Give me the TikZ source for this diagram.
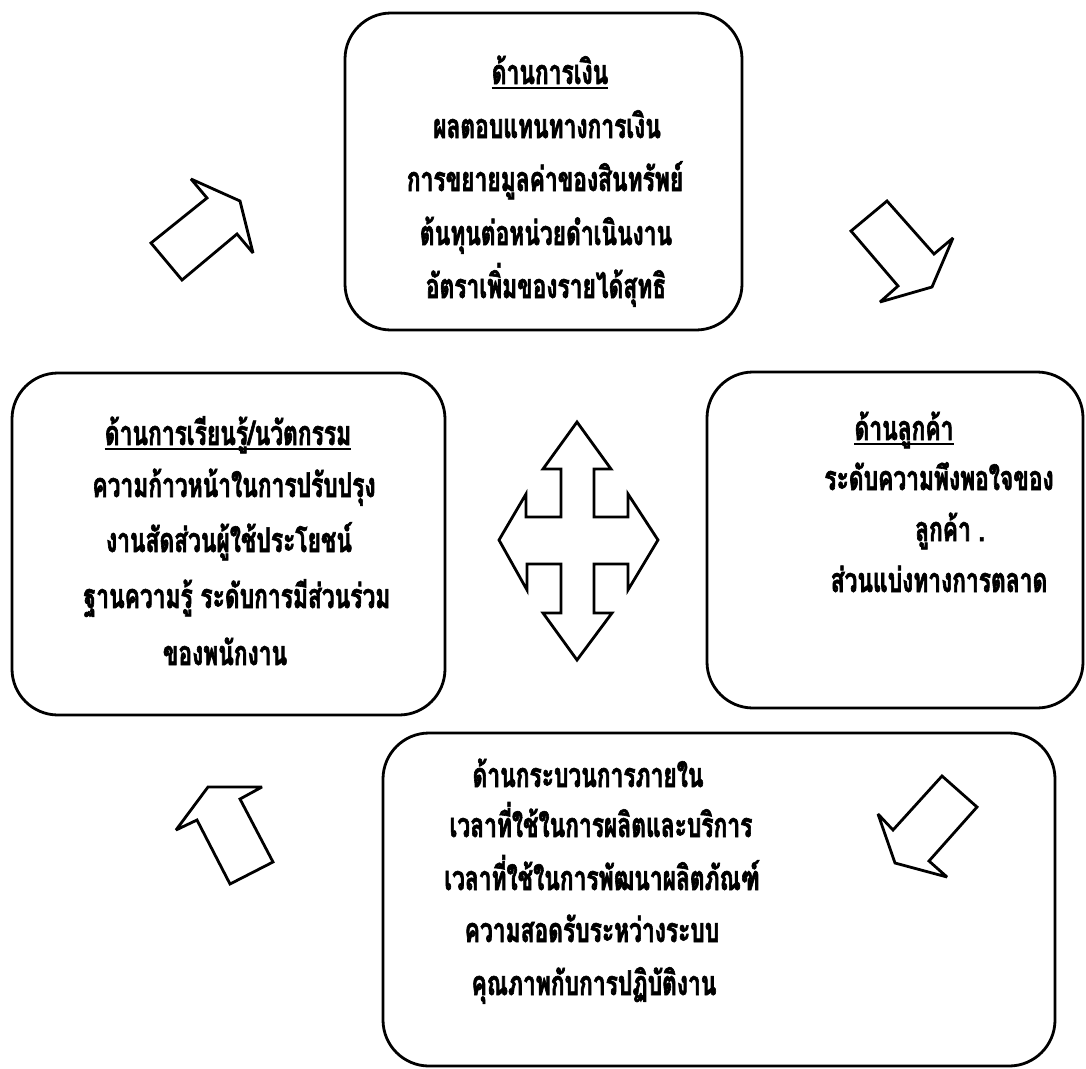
\documentclass[tikz,border=0pt]{standalone}
\usepackage{fontspec}
\newfontfamily\thaifont[Script=Thai, FakeStretch=0.67, BoldFeatures={FakeBold=1.8}]{Loma}
\begin{document}
\begin{tikzpicture}[x=1pt,y=-1pt,
  panel/.style={draw, line width=2.8pt, rounded corners=46pt, inner sep=0pt},
  txt/.style={font=\thaifont\bfseries\fontsize{34}{38}\selectfont, inner sep=0pt, anchor=base},
  uline/.style={line width=2pt},
  blockarrow/.style={draw, line width=2.8pt, line join=miter, miter limit=4}]
\useasboundingbox (0,0) rectangle (1086,1068);

% four perspective panels
\node[panel, minimum width=397pt, minimum height=317pt] (fin)  at (543.5,171.5) {};
\node[panel, minimum width=433pt, minimum height=342pt] (lrn)  at (228.5,544)   {};
\node[panel, minimum width=376pt, minimum height=336pt] (cus)  at (895,540)     {};
\node[panel, minimum width=672pt, minimum height=333pt] (prc)  at (719,899.5)   {};

% financial
\node[txt] (finT) at (550,84)  {ด้านการเงิน};
\draw[uline] ([yshift=-4pt]finT.base west) -- ([yshift=-4pt]finT.base east);
\node[txt] (fin1) at (547,138) {ผลตอบแทนทางการเงิน};
\node[txt] (fin2) at (545,191) {การขยายมูลค่าของสินทรัพย์};
\node[txt] (fin3) at (546,245) {ต้นทุนต่อหน่วยดำเนินงาน};
\node[txt] (fin4) at (546,298) {อัตราเพิ่มของรายได้สุทธิ};

% learning / innovation
\node[txt] (lrnT) at (228,445) {ด้านการเรียนรู้/นวัตกรรม};
\draw[uline] ([yshift=-4pt]lrnT.base west) -- ([yshift=-4pt]lrnT.base east);
\node[txt] (lrn1) at (234,497) {ความก้าวหน้าในการปรับปรุง};
\node[txt] (lrn2) at (229,552) {งานสัดส่วนผู้ใช้ประโยชน์};
\node[txt] (lrn3) at (237,608) {ฐานความรู้ ระดับการมีส่วนร่วม};
\node[txt] (lrn4) at (225,665) {ของพนักงาน};

% customer
\node[txt] (cusT) at (904,440) {ด้านลูกค้า};
\draw[uline] ([yshift=-4pt]cusT.base west) -- ([yshift=-4pt]cusT.base east);
\node[txt] (cus1) at (939,490) {ระดับความพึงพอใจของ};
\node[txt] (cus2) at (950,541) {ลูกค้า .};
\node[txt] (cus3) at (939,592) {ส่วนแบ่งทางการตลาด};

% internal process
\node[txt] (prcT) at (588,787) {ด้านกระบวนการภายใน};
\node[txt] (prc1) at (601,837) {เวลาที่ใช้ในการผลิตและบริการ};
\node[txt] (prc2) at (602,890) {เวลาที่ใช้ในการพัฒนาผลิตภัณฑ์};
\node[txt] (prc3) at (592,942) {ความสอดรับระหว่างระบบ};
\node[txt] (prc4) at (594,995) {คุณภาพกับการปฏิบัติงาน};

% cycle arrows between the panels
\draw[blockarrow] (151,243) -- (207,198) -- (191,179) -- (240,201) -- (253,253) -- (237,234) -- (182,280) -- cycle;
\draw[blockarrow] (851,231) -- (887,201) -- (934,254) -- (953,238) -- (932,287) -- (880,302) -- (898,286) -- cycle;
\draw[blockarrow] (942,776) -- (977,807) -- (929,861) -- (947,877) -- (895,863) -- (878,814) -- (893,830) -- cycle;
\draw[blockarrow] (176,830) -- (208,787) -- (262,787) -- (240,799) -- (273,862) -- (230,884) -- (197,820) -- cycle;

% central four-way arrow
\draw[blockarrow] (577,422) -- (611,469) -- (594,469) -- (594,517) -- (628,517) -- (628,494)
  -- (658,540) -- (628,590) -- (628,564) -- (594,564) -- (594,613) -- (612,613)
  -- (577,660) -- (543,613) -- (561,613) -- (561,564) -- (527,564) -- (527,590)
  -- (499,540) -- (526,494) -- (526,517) -- (561,517) -- (561,469) -- (543,469) -- cycle;
\end{tikzpicture}
\end{document}
